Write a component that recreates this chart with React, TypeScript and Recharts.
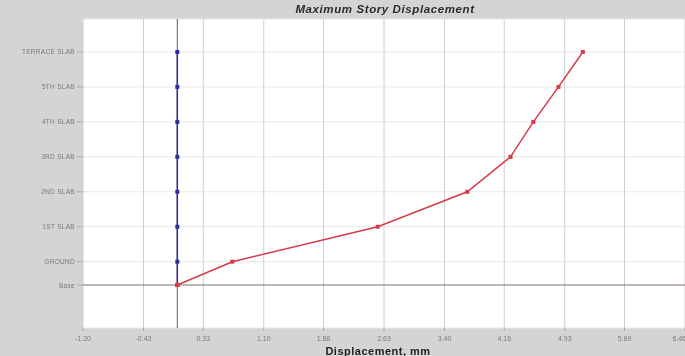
import React from 'react'
import {
  LineChart,
  Line,
  XAxis,
  YAxis,
  CartesianGrid,
  ReferenceLine
} from 'recharts'

// story names and their elevations (m) on the vertical axis
const stories = ['Base', 'GROUND', '1ST SLAB', '2ND SLAB', '3RD SLAB', '4TH SLAB', '5TH SLAB', 'TERRACE SLAB']
const elevations = [0, 2, 5, 8, 11, 14, 17, 20]

// maximum displacement per story, mm
const dispX = [0, 0.7, 2.55, 3.69, 4.24, 4.53, 4.85, 5.16]
const dispY = [0, 0, 0, 0, 0, 0, 0, 0]

const xTicks = [-1.2, -0.43, 0.33, 1.1, 1.86, 2.63, 3.4, 4.16, 4.93, 5.69, 6.46]

const WIDTH = 685
const HEIGHT = 356

const COLORS = {
  x: '#d43c4a',
  y: '#2b2f9c',
  zero: '#8c4a4a',
  grid: '#d0cccc',
  gridH: '#e8e8e8',
  bg: '#d4d4d4',
  tick: '#7a7a7a'
}

const xData = elevations.map((elev, i) => ({ disp: dispX[i], elev }))
const yData = elevations.map((elev, i) => ({ disp: dispY[i], elev }))

const Square = (color: string) => (props: any) => {
  const { cx, cy, index } = props
  if (cx == null || cy == null) return <g key={index} />
  return <rect key={index} x={cx - 2} y={cy - 2} width={4} height={4} fill={color} />
}

// story names drawn on one line, right aligned against the tick
const StoryTick = (props: any) => {
  const { x, y, payload } = props
  const i = elevations.indexOf(payload.value)
  return (
    <text x={x} y={y} dy={2.5} textAnchor="end" fontSize={6.5} fill={COLORS.tick} letterSpacing={0.3}>
      {i >= 0 ? stories[i] : ''}
    </text>
  )
}

const DispTick = (props: any) => {
  const { x, y, payload, index } = props
  const last = index === xTicks.length - 1
  return (
    <text x={last ? x + 1 : x} y={y} dy={8} textAnchor={last ? 'end' : 'middle'} fontSize={7} fill={COLORS.tick}>
      {Number(payload.value).toFixed(2)}
    </text>
  )
}

export default function App() {
  return (
    <div
      style={{
        position: 'fixed',
        left: 0,
        top: 0,
        width: WIDTH,
        height: HEIGHT,
        background: COLORS.bg,
        fontFamily: '"Liberation Sans", Arial, sans-serif'
      }}
    >
      <div
        style={{
          position: 'absolute',
          left: 0,
          top: 3,
          width: 770,
          textAlign: 'center',
          fontSize: 11.5,
          fontWeight: 'bold',
          fontStyle: 'italic',
          letterSpacing: 0.6,
          color: '#2a2a2a'
        }}
      >
        Maximum Story Displacement
      </div>
      <LineChart
        width={WIDTH}
        height={HEIGHT}
        margin={{ top: 19, right: 0, left: 0, bottom: 0 }}
      >
        <CartesianGrid stroke={COLORS.gridH} fill="#ffffff" vertical={false} />
        <CartesianGrid stroke={COLORS.grid} horizontal={false} />
        <XAxis
          type="number"
          dataKey="disp"
          domain={[-1.2, 6.46]}
          ticks={xTicks}
          interval={0}
          allowDataOverflow
          height={28}
          tick={<DispTick />}
          tickLine={{ stroke: '#aaa' }}
          tickSize={3}
          axisLine={false}
          label={{
            value: 'Displacement, mm',
            position: 'insideBottom',
            offset: 1,
            dx: -6,
            style: { fontSize: 11, fontWeight: 'bold', fill: '#222', letterSpacing: 0.5 }
          }}
        />
        <YAxis
          type="number"
          dataKey="elev"
          domain={[-3.69, 22.83]}
          ticks={elevations}
          interval={0}
          allowDataOverflow
          width={83}
          tick={<StoryTick />}
          tickLine={{ stroke: '#aaa' }}
          tickSize={6}
          axisLine={false}
        />
        <ReferenceLine y={0} stroke="#8a7878" strokeWidth={1} />
        <ReferenceLine x={0} stroke={COLORS.zero} strokeWidth={1} />
        <Line
          data={yData}
          dataKey="elev"
          stroke={COLORS.y}
          strokeWidth={1.5}
          dot={Square(COLORS.y)}
          isAnimationActive={false}
        />
        <Line
          data={xData}
          dataKey="elev"
          stroke={COLORS.x}
          strokeWidth={1.5}
          dot={Square(COLORS.x)}
          isAnimationActive={false}
        />
      </LineChart>
    </div>
  )
}
